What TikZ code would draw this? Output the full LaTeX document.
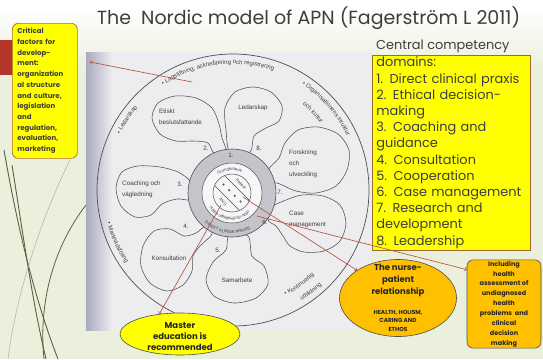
\documentclass[tikz,border=0pt]{standalone}
\usepackage{fontspec}
\setmainfont{Poppins}
\newfontfamily\photofont{Liberation Sans}
\usetikzlibrary{shapes.geometric,decorations.text}

\definecolor{slidebg}{HTML}{EBF0DC}
\definecolor{photobg}{HTML}{EDEDF0}
\definecolor{photoshade}{HTML}{A9A9C0}
\definecolor{ink}{HTML}{3E3E3E}
\definecolor{penc}{HTML}{4E4E4E}
\definecolor{ringgrey}{HTML}{C4C4CA}
\definecolor{arrowred}{HTML}{B5523B}
\definecolor{boxyellow}{HTML}{FFFF00}
\definecolor{boxorange}{HTML}{FFC000}
\definecolor{boxedge}{HTML}{9C6B30}
\definecolor{olive}{HTML}{5E5E40}
\definecolor{stripred}{HTML}{B5352A}

\newcommand\bandfont{\photofont\fontsize{6}{6.5}\selectfont}
\newcommand\ringfont{\photofont\fontsize{4.2}{5}\selectfont}

\begin{document}
\begin{tikzpicture}[x=1pt,y=-1pt,
	petal/.style={draw=penc, line width=0.55pt},
	petaltext/.style={font=\photofont\fontsize{6.3}{11}\selectfont, text=ink, inner sep=0pt, align=left},
	numtext/.style={font=\photofont\fontsize{6.3}{7}\selectfont, text=ink, inner sep=0pt},
	bandtext/.style={decorate, decoration={text along path, text align=center, text color=ink, text={|\bandfont|#1}}},
	ringtext/.style={decorate, decoration={text along path, text align=center, text color=ink, text={|\ringfont|#1}}},
	redarrow/.style={draw=arrowred, line width=0.65pt, arrows=->},
	domainbox/.style={draw=boxedge, fill=boxyellow, line width=0.6pt, inner xsep=4pt, inner ysep=0pt, align=left, text=ink, font=\fontsize{12.9}{16.2}\selectfont},
	critbox/.style={draw=boxedge!80!orange, fill=boxyellow, rounded corners=6pt, line width=0.7pt, inner xsep=5pt, align=left, text=ink, font=\bfseries\fontsize{7}{10.7}\selectfont},
	orangebox/.style={draw=black!70, fill=boxorange, line width=0.6pt, text=black!85, font=\bfseries},
	]
	\useasboundingbox (0,0) rectangle (543,359);
	% slide background
	\fill[slidebg] (0,0) rectangle (543,359);
	\shade[top color=white, bottom color=slidebg] (0,6) rectangle (543,70);
	\fill[white] (0,0) rectangle (543,7);
	\draw[olive, line width=0.9pt] (4,150) .. controls (18,230) and (35,300) .. (58,359);
	\draw[olive, line width=0.9pt] (12,165) .. controls (24,240) and (32,300) .. (46,359);
	\draw[olive, line width=0.8pt] (86,205) .. controls (55,245) and (38,300) .. (44,359);
	\draw[olive!50, line width=0.5pt] (70,160) .. controls (40,220) and (15,300) .. (8,359);
	\fill[stripred] (0,40) rectangle (13,75);

	% photo of the book figure
	\fill[photobg] (86,52) rectangle (372,330);
	\shade[left color=photoshade, right color=photobg] (86,52) rectangle (112,330);
	\coordinate (O) at (233,190);
	\coordinate (I) at (232,193);
	\draw[penc, line width=0.7pt] (O) circle [radius=136];

	% petals
	\draw[petal] plot [smooth cycle] coordinates {(214,153)(208,143)(194,141)(176,141)(160,134)(152,118)(158,103)(175,96)(196,98)(212,108)(219,124)(222,138)(226,151)};
	\draw[petal] plot [smooth cycle] coordinates {(230,152)(226,130)(225,108)(235,92)(253,87)(271,92)(282,106)(279,121)(266,128)(254,136)(250,152)};
	\draw[petal] plot [smooth cycle] coordinates {(268,170)(279,158)(285,143)(298,130)(318,127)(338,134)(349,150)(347,170)(336,186)(316,193)(296,191)(280,184)(271,181)};
	\draw[petal] plot [smooth cycle] coordinates {(272,207)(286,200)(302,195)(323,196)(340,205)(346,223)(340,241)(324,251)(304,252)(290,246)(283,236)(276,226)(268,220)};
	\draw[petal] plot [smooth cycle] coordinates {(229,236)(226,250)(213,262)(206,280)(214,296)(234,303)(256,298)(268,284)(264,266)(252,256)(248,236)};
	\draw[petal] plot [smooth cycle] coordinates {(206,226)(196,233)(184,236)(170,229)(154,231)(143,246)(141,266)(150,283)(167,291)(183,285)(192,271)(193,256)(200,246)(212,234)};
	\draw[petal] plot [smooth cycle] coordinates {(190,181)(178,172)(160,167)(138,166)(122,172)(116,188)(121,206)(135,217)(151,215)(162,204)(177,199)(190,200)(194,194)};

	% centre rings
	\fill[ringgrey] (I) circle [radius=44];
	\draw[penc, line width=0.6pt] (I) circle [radius=44];
	\fill[photobg!50!white] (I) circle [radius=30];
	\draw[penc, line width=0.5pt] (I) circle [radius=30];
	\draw[penc, line width=0.5pt] (I) circle [radius=19];
	\draw[penc, line width=0.4pt] (224.5,175.5) -- (249.5,200.5);
	\draw[penc, line width=0.4pt] (214.5,185.5) -- (239.5,210.5);
	\foreach \dx/\dy in {223.5/184.5, 229.2/190.2, 234.8/195.8, 240.5/201.5}
		\fill[penc] (\dx,\dy) circle [radius=1.2];
	\node[font=\ringfont, text=ink, rotate=-45, inner sep=0pt] (patient) at (241,184) {Patient};
	\node[font=\ringfont, text=ink, rotate=-45, inner sep=0pt] (ans) at (223,202) {ANS};

	% texts of the book figure
	\node[petaltext, anchor=west] (etiskt) at (159,117) {Etiskt\\beslutsfattande};
	\node[petaltext] (ledarskap) at (253,108) {Ledarskap};
	\node[petaltext, anchor=west] (forskning) at (289,164) {Forskning\\och\\utveckling};
	\node[petaltext, anchor=west] (casemgmt) at (289,219) {Case\\management};
	\node[petaltext] (samarbete) at (237,280) {Samarbete};
	\node[petaltext] (konsult) at (169,258) {Konsultation};
	\node[petaltext, anchor=west] (coaching) at (122,189.5) {Coaching och\\vägledning};
	\node[numtext] (n1) at (231,155) {1.};
	\node[numtext] (n2) at (206,148) {2.};
	\node[numtext] (n3) at (180,184) {3.};
	\node[numtext] (n4) at (186,226) {4.};
	\node[numtext] (n5) at (218,250) {5.};
	\node[numtext] (n6) at (265,222) {6.};
	\node[numtext] (n7) at (280,192) {7.};
	\node[numtext] (n8) at (259,148) {8.};
	\path[bandtext={• Lagstiftning, ackreditering och registrering}] ([shift={(-140:126)}]O) arc [start angle=-140, end angle=-55, radius=126];
	\path[bandtext={• Ledarskap}] ([shift={(-165:126)}]O) arc [start angle=-165, end angle=-128, radius=126];
	\path[bandtext={• Organisationens struktur}] ([shift={(-76:126)}]O) arc [start angle=-76, end angle=-6, radius=126];
	\path[bandtext={och kultur}] ([shift={(-62:110)}]O) arc [start angle=-62, end angle=-26, radius=110];
	\path[bandtext={• Marknadsföring}] ([shift={(-180:130)}]O) arc [start angle=-180, end angle=-229, radius=130];
	\path[bandtext={• Kontinuerlig}] ([shift={(-285:118)}]O) arc [start angle=-285, end angle=-325, radius=118];
	\path[bandtext={utbildning}] ([shift={(-290:130)}]O) arc [start angle=-290, end angle=-325, radius=130];
	\path[ringtext={Grundkriterie}] ([shift={(-176:22.5)}]I) arc [start angle=-176, end angle=-16, radius=22.5];
	\path[ringtext={Högre utbildning för ANP}] ([shift={(-160:27)}]I) arc [start angle=-160, end angle=-365, radius=27];
	\path[ringtext={DIREKT KLINISK PRAXIS}] ([shift={(-200:40.5)}]I) arc [start angle=-200, end angle=-325, radius=40.5];

	% slide texts and boxes
	\node[text=ink, font=\fontsize{19}{22}\selectfont] (title) at (308.5,18) {The\ \ Nordic model of APN (Fagerström L 2011)};
	\node[text=ink, font=\fontsize{12.9}{16.2}\selectfont, anchor=west, inner sep=0pt] (central) at (376,46) {Central competency};
	\node[domainbox, anchor=north west, minimum width=158, minimum height=195, text width=150] (domains) at (372,55) {domains:\\1. Direct clinical praxis\\2. Ethical decision-\\making\\3. Coaching and\\guidance\\4. Consultation\\5. Cooperation\\6. Case management\\7. Research and\\development\\8. Leadership};
	\node[critbox, anchor=north west, minimum width=65, minimum height=135, text width=55] (critical) at (12,23) {Critical\\factors for\\develop-\\ment:\\organization\\al structure\\and culture,\\legislation\\and\\regulation,\\evaluation,\\marketing};
	\node[orangebox, ellipse, minimum width=117, minimum height=77] (nurse) at (398,298) {};
	\node[text=black!85, font=\bfseries\fontsize{8.5}{12}\selectfont, align=center, inner sep=0pt] (nursetitle) at (398,280) {The nurse-\\patient\\relationship};
	\node[text=black!85, font=\bfseries\fontsize{5.8}{8.5}\selectfont, align=center, inner sep=0pt] (nursesub) at (398,320.5) {HEALTH, HOLISM,\\CARING AND\\ETHOS};
	\node[orangebox, rounded corners=6pt, minimum width=74, minimum height=88, align=center, inner sep=1pt, font=\bfseries\fontsize{6.5}{9.9}\selectfont] (incl) at (504,304) {Including\\health\\assessment of\\undiagnosed\\health\\problems\ \ and\\clinical\\decision\\making};
	\node[draw=black!70, fill=boxyellow, ellipse, line width=0.6pt, minimum width=120, minimum height=42, inner sep=0pt] (master) at (180,334) {};
	\node[text=black!85, font=\bfseries\fontsize{8.5}{11}\selectfont, align=center, inner sep=0pt] (mastertext) at (180,337) {Master\\education is\\recommended};

	% connectors
	\coordinate (lagpt) at (192,82);
	\coordinate (crittip) at (90,62);
	\coordinate (ansdot) at (221,205);
	\coordinate (patdot) at (243,197);
	\coordinate (ringpt) at (257,216);
	\draw[redarrow] (lagpt) -- (crittip);
	\draw[redarrow] (ansdot) -- (master.136);
	\draw[redarrow] (patdot) -- (nurse.146);
	\draw[redarrow] (ringpt) -- ([yshift=-10pt]incl.north west);
\end{tikzpicture}
\end{document}
